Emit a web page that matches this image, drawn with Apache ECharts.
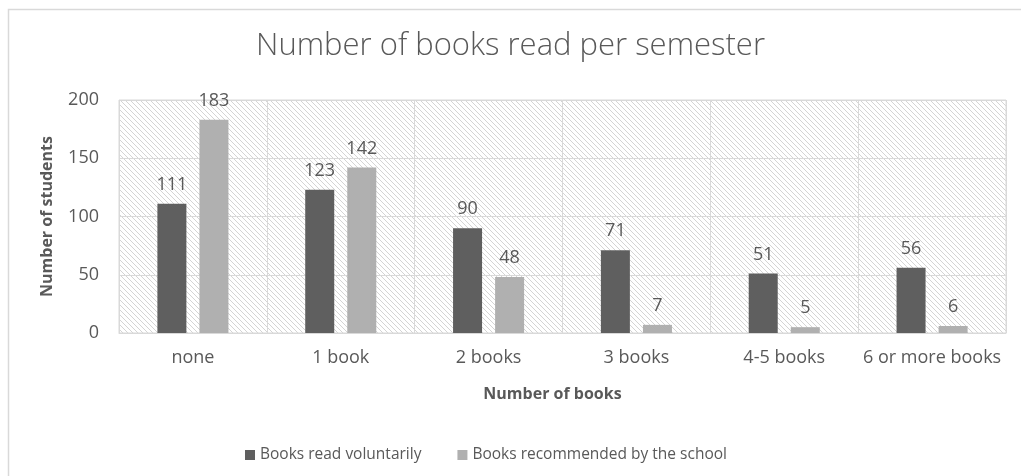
<!DOCTYPE html>
<html>
<head>
<meta charset="utf-8">
<script src="https://cdn.jsdelivr.net/npm/echarts@6/dist/echarts.min.js"></script>
<style>
  html, body { margin: 0; padding: 0; background: #ffffff; }
  #chart { width: 1021px; height: 476px; }
</style>
</head>
<body>
<div id="chart"></div>
<script>
// Reading habits survey: books read per semester
const categories = ['none', '1 book', '2 books', '3 books', '4-5 books', '6 or more books'];
const voluntary = [111, 123, 90, 71, 51, 56];
const recommended = [183, 142, 48, 7, 5, 6];
const yTicks = [0, 50, 100, 150, 200];

// Light diagonal hatch for the plot background
function hatchPattern() {
  const c = document.createElement('canvas');
  const s = 5;
  c.width = s; c.height = s;
  const g = c.getContext('2d');
  g.fillStyle = '#ffffff';
  g.fillRect(0, 0, s, s);
  g.strokeStyle = '#d4d4d4';
  g.lineWidth = 1;
  g.beginPath();
  g.moveTo(-1, -1); g.lineTo(s + 1, s + 1);
  g.moveTo(-1, s - 1); g.lineTo(1, s + 1);
  g.moveTo(s - 1, -1); g.lineTo(s + 1, 1);
  g.stroke();
  return { image: c, repeat: 'repeat' };
}

const textColor = '#595959';
const font = '"Open Sans", "DejaVu Sans", sans-serif';

const chart = echarts.init(document.getElementById('chart'), null, { renderer: 'canvas' });
chart.setOption({
  animation: false,
  backgroundColor: '#ffffff',
  textStyle: { fontFamily: font },
  graphic: [{
    type: 'rect',
    shape: { x: 8.5, y: 9.5, width: 1100, height: 600 },
    style: { fill: 'none', stroke: '#d9d9d9', lineWidth: 1.5 },
    silent: true
  }],
  title: {
    text: 'Number of books read per semester',
    left: 'center',
    top: 26,
    textStyle: { fontFamily: font, fontSize: 31, fontWeight: 300, color: textColor }
  },
  legend: {
    top: 442,
    left: 240,
    itemWidth: 10,
    itemHeight: 10,
    itemGap: 36,
    icon: 'rect',
    textStyle: { fontFamily: font, fontSize: 15.5, color: textColor }
  },
  grid: {
    left: 119, right: 15, top: 100, bottom: 143,
    show: true,
    backgroundColor: hatchPattern(),
    borderColor: '#d9d9d9',
    borderWidth: 1
  },
  xAxis: {
    type: 'category',
    data: categories,
    name: 'Number of books',
    nameLocation: 'middle',
    nameGap: 53,
    nameTextStyle: { fontFamily: font, fontSize: 16, fontWeight: 'bold', color: textColor, padding: [0, 20, 0, 0] },
    axisLine: { lineStyle: { color: '#d9d9d9' } },
    axisTick: { show: false },
    axisLabel: { interval: 0, fontFamily: font, fontSize: 18, color: textColor, margin: 16 },
    splitLine: { show: true, interval: 0, lineStyle: { color: '#d9d9d9', width: 1 } }
  },
  yAxis: {
    type: 'value',
    min: yTicks[0],
    max: yTicks[yTicks.length - 1],
    interval: 50,
    name: 'Number of students',
    nameLocation: 'middle',
    nameGap: 64,
    nameTextStyle: { fontFamily: font, fontSize: 16, fontWeight: 'bold', color: textColor },
    axisLine: { show: false },
    axisTick: { show: false },
    axisLabel: { fontFamily: font, fontSize: 18, color: textColor, margin: 20 },
    splitLine: { lineStyle: { color: '#d9d9d9', width: 1 } }
  },
  series: [
    {
      name: 'Books read voluntarily',
      type: 'bar',
      data: voluntary,
      barWidth: 29,
      barGap: '45%',
      itemStyle: { color: '#5f5f5f' },
      label: { show: true, position: 'top', distance: 10, fontFamily: font, fontSize: 18, color: textColor }
    },
    {
      name: 'Books recommended by the school',
      type: 'bar',
      data: recommended,
      barWidth: 29,
      itemStyle: { color: '#b0b0b0' },
      label: { show: true, position: 'top', distance: 10, fontFamily: font, fontSize: 18, color: textColor }
    }
  ]
});
</script>
</body>
</html>
